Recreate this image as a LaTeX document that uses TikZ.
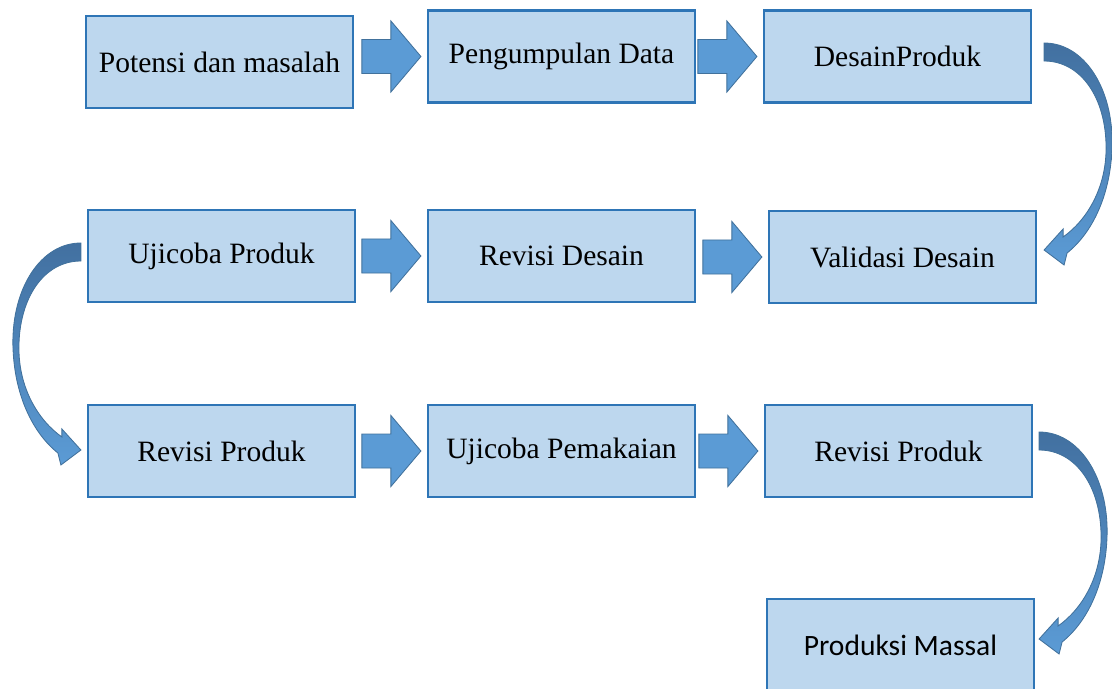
\documentclass[tikz,border=0pt]{standalone}
\usepackage{fontspec}
\setmainfont{Liberation Serif}
\newfontfamily\calibrifont{Carlito}
\usepackage{tikz}
\usetikzlibrary{calc}
\definecolor{boxfill}{RGB}{189,215,238}
\definecolor{boxline}{RGB}{46,117,182}
\definecolor{arrfill}{RGB}{91,155,213}
\definecolor{arrline}{RGB}{65,113,156}
\definecolor{benddark}{RGB}{66,112,160}
\tikzset{
  stepbox/.style={draw=boxline,fill=boxfill,line width=1.5pt,minimum width=6.675cm,
    minimum height=2.3cm,inner sep=0pt,font=\fontsize{21}{25}\selectfont},
  blockarr/.style={fill=arrfill,draw=arrline,line width=0.6pt,line join=miter},
  bendarr/.style={top color=benddark,bottom color=arrfill,draw=arrline,line width=0.6pt},
}
% block arrow pointing at the west side of a box
\newcommand{\blockto}[1]{%
  \draw[blockarr] ($(#1.west)+(-65,-17)$) -- ++(29,0) -- ++(0,-18.5) -- ++(30,35.5)
    -- ++(-30,35.5) -- ++(0,-18.5) -- ++(-29,0) -- cycle;}
% curved arrow from a tail coordinate, #2 = 1 (bulge right) or -1 (bulge left)
\newcommand{\bendfrom}[2]{%
  \begin{scope}[shift={(#1)},xscale=#2]
    \path[bendarr] (0,0) .. controls (40,0) and (69,45) .. (68,102)
      .. controls (67,152) and (48,190) .. (23,210) -- (20,222) -- (0,207)
      -- (19,186) -- (19,194) .. controls (43,177) and (62,145) .. (62,105)
      .. controls (62,55) and (37,18) .. (0,18) -- cycle;
  \end{scope}}

\begin{document}
\begin{tikzpicture}[x=0.025cm,y=-0.025cm]
  \useasboundingbox (0,0) rectangle (1112,689);
  % row 1
  \node[stepbox] (p1) at (219.5,62) {Potensi dan masalah};
  \node[stepbox] (p2) at (561.5,56.5) {Pengumpulan Data};
  \node[stepbox] (p3) at (897.5,56.5) {DesainProduk};
  % row 2
  \node[stepbox] (u1) at (221.5,256) {Ujicoba Produk};
  \node[stepbox] (r1) at (561.5,256) {Revisi Desain};
  \node[stepbox] (v1) at (902.5,257) {Validasi Desain};
  % row 3
  \node[stepbox] (r2) at (221.5,451) {Revisi Produk};
  \node[stepbox] (u2) at (561.5,451) {Ujicoba Pemakaian};
  \node[stepbox] (r3) at (898.5,451) {Revisi Produk};
  % row 4
  \node[stepbox,font=\calibrifont\fontsize{21}{25}\selectfont] (m1) at (900.5,645) {Produksi Massal};
  % straight block arrows
  \blockto{p2}
  \blockto{p3}
  \blockto{r1}
  \blockto{v1}
  \blockto{u2}
  \blockto{r3}
  % curved arrows between rows
  \coordinate (tailA) at ($(p3.east)+(12,-13.5)$);
  \coordinate (tailB) at ($(u1.west)+(-6,-13)$);
  \coordinate (tailC) at ($(r3.east)+(6,-19)$);
  \bendfrom{tailA}{1}
  \bendfrom{tailB}{-1}
  \bendfrom{tailC}{1}
\end{tikzpicture}
\end{document}
